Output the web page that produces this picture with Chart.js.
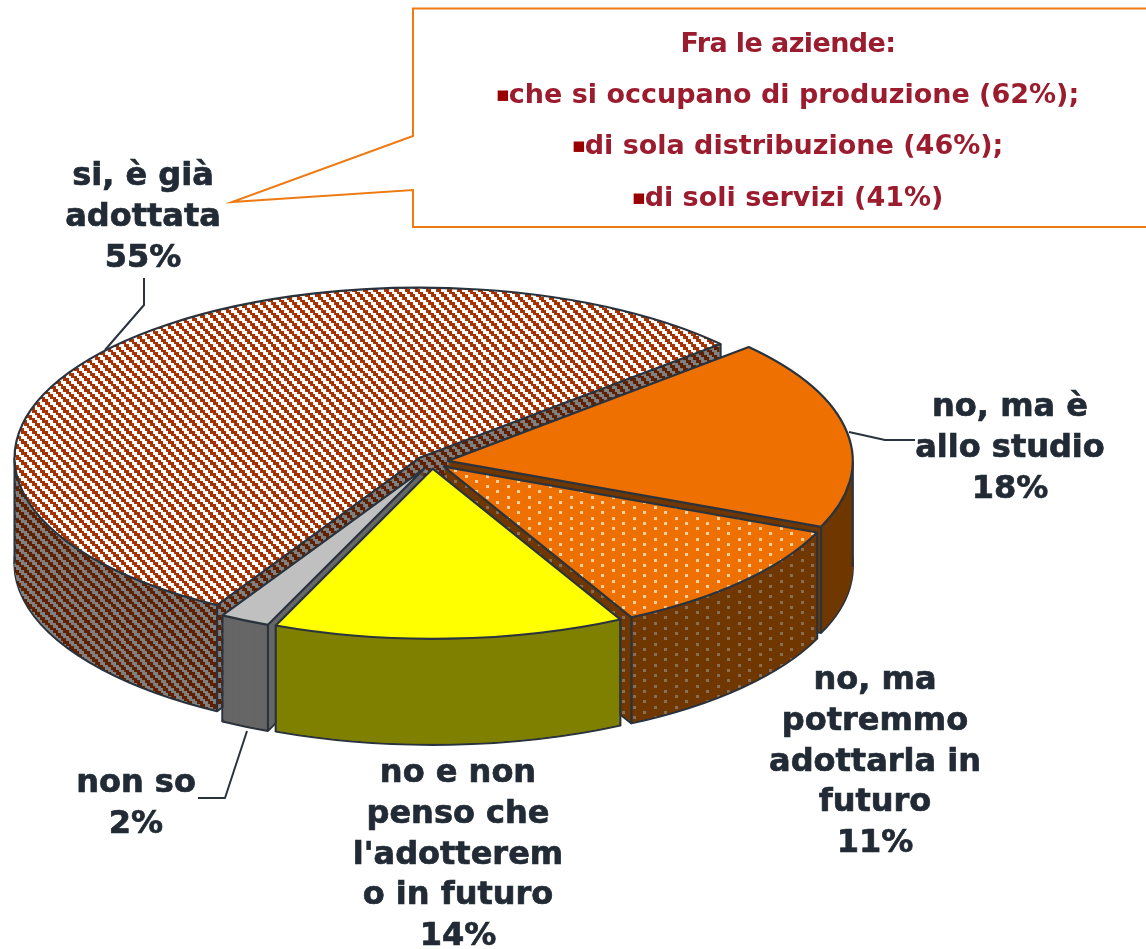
<!DOCTYPE html>
<html><head><meta charset="utf-8">
<style>html,body{margin:0;padding:0;background:#fff;overflow:hidden}canvas{display:block}</style>
<script src="https://cdn.jsdelivr.net/npm/chart.js@4"></script>
</head><body><canvas id="c" width="1146" height="949"></canvas>
<script>
const categories = ["si, è già adottata","no, ma è allo studio","no, ma potremmo adottarla in futuro","no e non penso che l'adotteremo in futuro","non so"];
const values = [55,18,11,14,2];
const labelLines = [["si, è già","adottata"],["no, ma è","allo studio"],["no, ma","potremmo","adottarla in","futuro"],["no e non","penso che","l'adotterem","o in futuro"],["non so"]];
const labelCenterX = [143,1010,875,458,136];
const labelFirstBaseline = [185,416,689,782,792];
const noteTitle = "Fra le aziende:";
const noteLines = ["che si occupano di produzione (62%);","di sola distribuzione (46%);","di soli servizi (41%)"];

const K = 0.42, CY = 462, DEPTH = 106, EXPLODE = 16;
const INK = "#2a333d", TEXT = "#222b35";

function stripes(a,b){
  const t=document.createElement("canvas");t.width=t.height=21;const g=t.getContext("2d");
  for(let y=0;y<21;y++)for(let x=0;x<21;x++){
    const s=Math.floor(x/2.625)-Math.floor(y/2.625);
    g.fillStyle=((s%4+4)%4)<2?a:b;g.fillRect(x,y,1,1);
  }
  return g.createPattern(t,"repeat");
}
function dots(a,b){
  const t=document.createElement("canvas");t.width=21;t.height=21;const g=t.getContext("2d");
  g.fillStyle=a;g.fillRect(0,0,21,21);g.fillStyle=b;
  [[3,2],[13,7],[3,13],[13,18]].forEach(p=>g.fillRect(p[0],p[1],3,3));
  return g.createPattern(t,"repeat");
}
const topFills=[stripes("#a33200","#ffffff"),"#ee7000",dots("#ee7000","#ffcf9f"),"#ffff00","#c0c0c0"];
const wallFills=[stripes("#5e2000","#808080"),"#703800",dots("#703800","#86705a"),"#808000","#666666"];

function drawSlice(ctx,el,depth,fill,outlined){
  const saved=el.options;
  ctx.save();
  ctx.translate(0,CY+depth);ctx.scale(1,K);ctx.translate(0,-el.y);
  const mid=(el.startAngle+el.endAngle)/2;
  ctx.translate(Math.cos(mid)*EXPLODE,Math.sin(mid)*EXPLODE);
  if(fill instanceof CanvasPattern)fill.setTransform(ctx.getTransform().inverse());
  el.options={backgroundColor:fill,borderColor:INK,borderWidth:0,borderAlign:"center",borderJoinStyle:"round",
    offset:0,spacing:0,circular:true,borderRadius:0,borderDash:[],borderDashOffset:0};
  el.draw(ctx);
  el.options=saved;
  if(outlined){
    ctx.beginPath();ctx.moveTo(el.x,el.y);ctx.arc(el.x,el.y,el.outerRadius,el.startAngle,el.endAngle);ctx.closePath();
    ctx.setTransform(1,0,0,1,0,0);
    ctx.strokeStyle=INK;ctx.lineWidth=2.2;ctx.lineJoin="round";ctx.stroke();
  }
  ctx.restore();
}
function edgeLines(ctx,el){
  const mid=(el.startAngle+el.endAngle)/2;
  const cx=el.x+Math.cos(mid)*EXPLODE, cy=CY+Math.sin(mid)*EXPLODE*K;
  const angles=[el.startAngle,el.endAngle];
  for(const a of [0,Math.PI,2*Math.PI,3*Math.PI]) if(a>el.startAngle&&a<el.endAngle)angles.push(a);
  ctx.save();ctx.strokeStyle=INK;ctx.lineWidth=2.2;
  for(const a of angles){
    const x=cx+Math.cos(a)*el.outerRadius,y=cy+Math.sin(a)*el.outerRadius*K;
    ctx.beginPath();ctx.moveTo(x,y);ctx.lineTo(x,y+DEPTH);ctx.stroke();
  }
  ctx.restore();
}
const pie3d={
  id:"pie3d",
  beforeDatasetDraw(){return false;},
  afterDatasetsDraw(chart){
    const ctx=chart.ctx,arcs=chart.getDatasetMeta(0).data;
    for(let d=DEPTH;d>=1;d--){
      arcs.forEach((el,i)=>drawSlice(ctx,el,d,wallFills[i],d===DEPTH));
    }
    arcs.forEach(el=>edgeLines(ctx,el));
    arcs.forEach((el,i)=>drawSlice(ctx,el,0,topFills[i],true));
  }
};
const annotations={
  id:"annotations",
  afterDraw(chart){
    const ctx=chart.ctx;ctx.save();
    ctx.strokeStyle=INK;ctx.lineWidth=2;ctx.lineJoin="round";
    [[[144,278],[144,305],[105,350]],[[849,432],[885,440],[915,440]],[[247,731],[225,798],[198,798]]].forEach(p=>{
      ctx.beginPath();p.forEach((q,i)=>i?ctx.lineTo(q[0],q[1]):ctx.moveTo(q[0],q[1]));ctx.stroke();
    });
    ctx.strokeStyle="#ee7a14";ctx.lineWidth=2;ctx.lineJoin="miter";
    ctx.beginPath();ctx.moveTo(1150,8.5);ctx.lineTo(413,8.5);ctx.lineTo(413,136);ctx.lineTo(232,202);ctx.lineTo(413,190);ctx.lineTo(413,227);ctx.lineTo(1150,227);ctx.stroke();
    ctx.textBaseline="alphabetic";
    ctx.font='bold 32px "DejaVu Sans"';ctx.fillStyle=TEXT;ctx.strokeStyle=TEXT;ctx.lineWidth=0.7;ctx.textAlign="center";
    labelLines.forEach((lines,i)=>{
      [...lines,values[i]+"%"].forEach((t,j)=>{
        const y=labelFirstBaseline[i]+j*40.8;
        ctx.fillText(t,labelCenterX[i],y);ctx.strokeText(t,labelCenterX[i],y);
      });
    });
    ctx.font='bold 27px "DejaVu Sans"';ctx.fillStyle="#9b1c2e";
    ctx.letterSpacing="-0.6px";
    ctx.fillText(noteTitle,788,52);
    ctx.letterSpacing="0px";
    ctx.textAlign="left";
    noteLines.forEach((t,i)=>{
      const y=103+i*51.3;
      ctx.font='bold 27px "DejaVu Sans"';
      const w=ctx.measureText(t).width,bw=13,x=787.5-(w+bw)/2;
      ctx.fillStyle="#9b1c2e";ctx.fillText(t,x+bw,y);
      ctx.font='bold 21px "DejaVu Sans"';
      ctx.fillStyle="#990000";ctx.fillText("▪",x,y-2);
    });
    ctx.restore();
  }
};
new Chart(document.getElementById("c"),{
  type:"pie",
  data:{labels:categories,datasets:[{data:values,backgroundColor:topFills,borderColor:INK,borderWidth:2}]},
  options:{responsive:false,animation:false,rotation:210,radius:405,
    layout:{padding:{right:282}},
    plugins:{legend:{display:false},tooltip:{enabled:false}}},
  plugins:[pie3d,annotations]
});
</script></body></html>
